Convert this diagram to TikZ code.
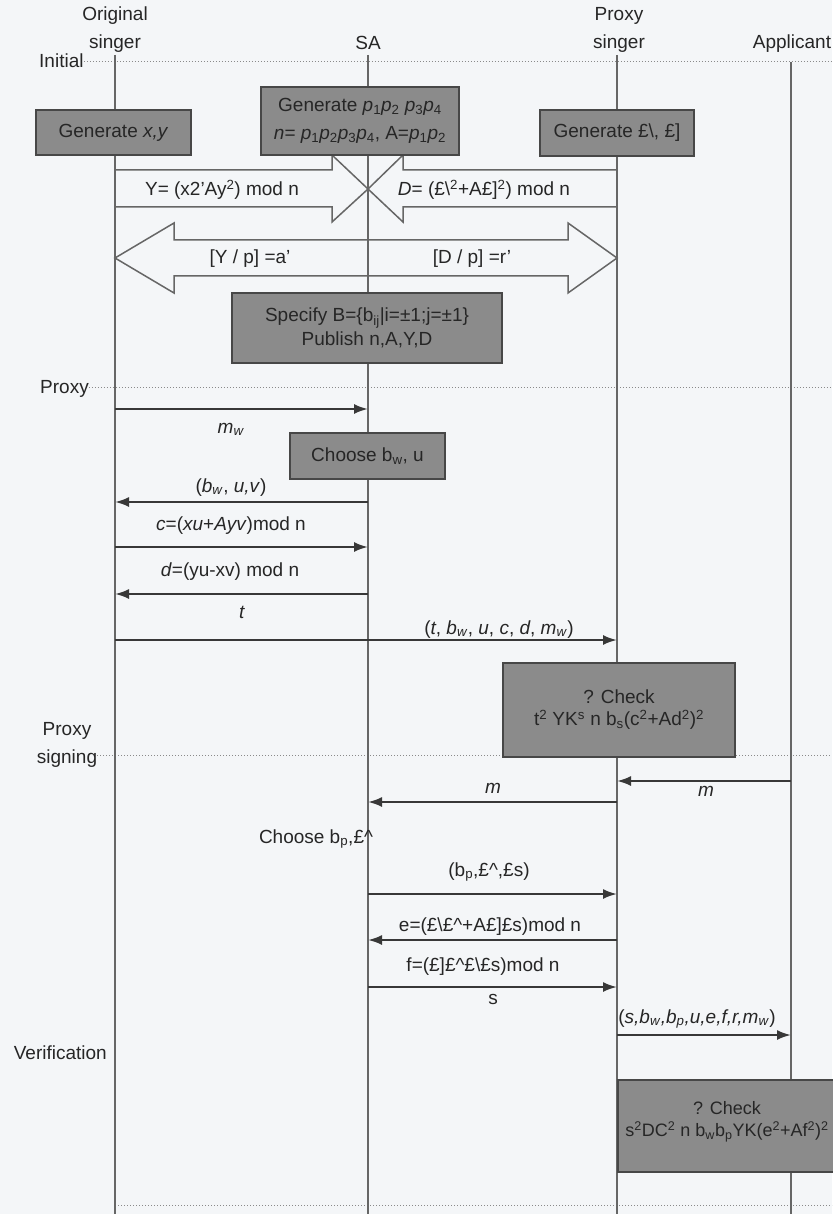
\documentclass[tikz,border=0pt]{standalone}
\usepackage{fontspec}
\setmainfont{Liberation Sans}
\usetikzlibrary{arrows.meta,calc}
\definecolor{bgc}{HTML}{F4F6F8}
\definecolor{boxfill}{HTML}{8B8B8B}
\definecolor{boxline}{HTML}{474747}
\definecolor{txt}{HTML}{262626}
\definecolor{lifec}{HTML}{666666}
\definecolor{msgc}{HTML}{383838}
\definecolor{phasec}{HTML}{8A8A8A}
\begin{document}
\begin{tikzpicture}[x=1pt,y=-1pt,
  every node/.append style={font=\fontsize{19}{26}\selectfont, text=txt},
  lbl/.style={inner sep=0pt, anchor=base},
  head/.style={inner sep=0pt, align=center, font=\fontsize{19}{28}\selectfont},
  box/.style={draw=boxline, fill=boxfill, line width=1.6pt, inner sep=0pt, align=center},
  life/.style={draw=lifec, line width=1.2pt},
  phase/.style={draw=phasec, dotted, line width=1pt},
  msg/.style={draw=msgc, line width=2.2pt, -{Latex[length=14pt,width=10pt]}},
  big/.style={draw=lifec, line width=1.5pt, line join=miter}]
\useasboundingbox (0,0) rectangle (832,1214);
\fill[bgc] (0,0) rectangle (832,1214);

% lifeline reference coordinates
\coordinate (L1) at (115,0);
\coordinate (L2) at (368,0);
\coordinate (L3) at (617,0);
\coordinate (L4) at (791,0);

% headers
\node[head] (os) at (115,30) {Original\\singer};
\node[head] (sa) at (368,43) {SA};
\node[head] (ps) at (619,30) {Proxy\\singer};
\node[head] (ap) at (792,44) {Applicant};

% phase lines and labels
\node[lbl, anchor=base west] (phI) at (39,68) {Initial};
\draw[phase] (phI.base east |- 0,62) -- (832,62);
\node[lbl, anchor=base west] (phP) at (40,393) {Proxy};
\draw[phase] (phP.base east |- 0,387) -- (832,387);
\node[head] (phS) at (67,745) {Proxy\\signing};
\draw[phase] (phS.east |- 0,755) -- (832,755);
\node[lbl, anchor=base east] (phV) at (107,1059) {Verification};
\draw[phase] ($(L1)+(0,1205)$) -- (832,1205);

% lifelines
\draw[life] ($(L1)+(0,55)$) -- ($(L1)+(0,1214)$);
\draw[life] ($(L2)+(0,55)$) -- ($(L2)+(0,1214)$);
\draw[life] ($(L3)+(0,55)$) -- ($(L3)+(0,1214)$);
\draw[life] ($(L4)+(0,62)$) -- ($(L4)+(0,1214)$);

% crossing block arrows
\draw[big] (115,170) -- (332,170) -- (332,155) -- (368,189) -- (332,222) -- (332,207) -- (115,207);
\draw[big] (617,170) -- (403,170) -- (403,155) -- (368,189) -- (403,222) -- (403,207) -- (617,207);
\node[lbl] (yeq) at (222,196) {Y= (x2'Ay\textsuperscript{2}) mod n};
\node[lbl] (deq) at (484,196) {\textit{D}= (£\textbackslash\textsuperscript{2}+A£]\textsuperscript{2}) mod n};

% double block arrow
\draw[big] (115,258) -- (174,223) -- (174,240) -- (568,240) -- (568,223) -- (617,258)
  -- (568,293) -- (568,276) -- (174,276) -- (174,293) -- cycle;
\node[lbl] (ya) at (250,264) {[Y / p] =a'};
\node[lbl] (dr) at (472,264) {[D / p] =r'};

% boxes
\node[box, minimum width=155, minimum height=45] (gxy) at (113.5,132.5) {Generate \textit{x,y}};
\node[box, minimum width=198, minimum height=68, font=\fontsize{19}{28}\selectfont] (gp) at (360,121)
  {Generate \textit{p}\textsubscript{1}\textit{p}\textsubscript{2} \textit{p}\textsubscript{3}\textit{p}\textsubscript{4}\\
   \textit{n}= \textit{p}\textsubscript{1}\textit{p}\textsubscript{2}\textit{p}\textsubscript{3}\textit{p}\textsubscript{4}, A=\textit{p}\textsubscript{1}\textit{p}\textsubscript{2}};
\node[box, minimum width=154, minimum height=46] (gl) at (617,133) {Generate £\textbackslash, £]};
\node[box, minimum width=270, minimum height=70, font=\fontsize{19}{24}\selectfont] (spec) at (367,328)
  {Specify B=\{b\textsubscript{ij}|i=±1;j=±1\}\\Publish n,A,Y,D};
\node[box, minimum width=155, minimum height=46] (chw) at (367.5,456) {Choose b\textsubscript{w}, u};
\node[box, minimum width=232, minimum height=94, font=\fontsize{19}{22}\selectfont] (chk1) at (619,710)
  {? Check\\t\textsuperscript{2} YK\textsuperscript{s} n b\textsubscript{s}(c\textsuperscript{2}+Ad\textsuperscript{2})\textsuperscript{2}};
\node[box, minimum width=252, minimum height=92] (chk2bg) at (744,1126) {};
\node[inner sep=0pt, align=center, font=\fontsize{18}{22}\selectfont] (chk2) at (727,1122)
  {? Check\\s\textsuperscript{2}DC\textsuperscript{2} n b\textsubscript{w}b\textsubscript{p}YK(e\textsuperscript{2}+Af\textsuperscript{2})\textsuperscript{2}};

% proxy phase messages
\draw[msg] ($(L1)+(0,409)$) -- ($(L2)+(0,409)$);
\node[lbl] (l1) at (231,433) {\textit{m}\textsubscript{\textit{w}}};
\node[lbl] (l2) at (231,492) {(\textit{b}\textsubscript{\textit{w}}, \textit{u,v})};
\draw[msg] ($(L2)+(0,502)$) -- ($(L1)+(0,502)$);
\node[lbl] (l3) at (231,530) {\textit{c}=(\textit{xu}+\textit{Ayv})mod n};
\draw[msg] ($(L1)+(0,547)$) -- ($(L2)+(0,547)$);
\node[lbl] (l4) at (230,576) {\textit{d}=(yu-xv) mod n};
\draw[msg] ($(L2)+(0,594)$) -- ($(L1)+(0,594)$);
\node[lbl] (l5) at (242,618) {\textit{t}};
\node[lbl] (l6) at (499,634) {(\textit{t}, \textit{b}\textsubscript{\textit{w}}, \textit{u}, \textit{c}, \textit{d}, \textit{m}\textsubscript{\textit{w}})};
\draw[msg] ($(L1)+(0,640)$) -- ($(L3)+(0,640)$);

% proxy signing messages
\draw[msg] ($(L4)+(0,781)$) -- ($(L3)+(0,781)$);
\node[lbl] (l7) at (706,796) {\textit{m}};
\node[lbl] (l8) at (493,793) {\textit{m}};
\draw[msg] ($(L3)+(0,802)$) -- ($(L2)+(0,802)$);
\node[lbl] (l9) at (316,843) {Choose b\textsubscript{p},£\textasciicircum};
\node[lbl] (l10) at (489,876) {(b\textsubscript{p},£\textasciicircum,£s)};
\draw[msg] ($(L2)+(0,894)$) -- ($(L3)+(0,894)$);
\node[lbl] (l11) at (490,931) {e=(£\textbackslash£\textasciicircum+A£]£s)mod n};
\draw[msg] ($(L3)+(0,940)$) -- ($(L2)+(0,940)$);
\node[lbl] (l12) at (483,971) {f=(£]£\textasciicircum£\textbackslash£s)mod n};
\draw[msg] ($(L2)+(0,987)$) -- ($(L3)+(0,987)$);
\node[lbl] (l13) at (493,1004) {s};

% verification
\node[lbl] (l14) at (697,1023) {(\textit{s,b}\textsubscript{\textit{w}}\textit{,b}\textsubscript{\textit{p}}\textit{,u,e,f,r,m}\textsubscript{\textit{w}})};
\draw[msg] ($(L3)+(0,1035)$) -- ($(L4)+(0,1035)$);
\end{tikzpicture}
\end{document}
